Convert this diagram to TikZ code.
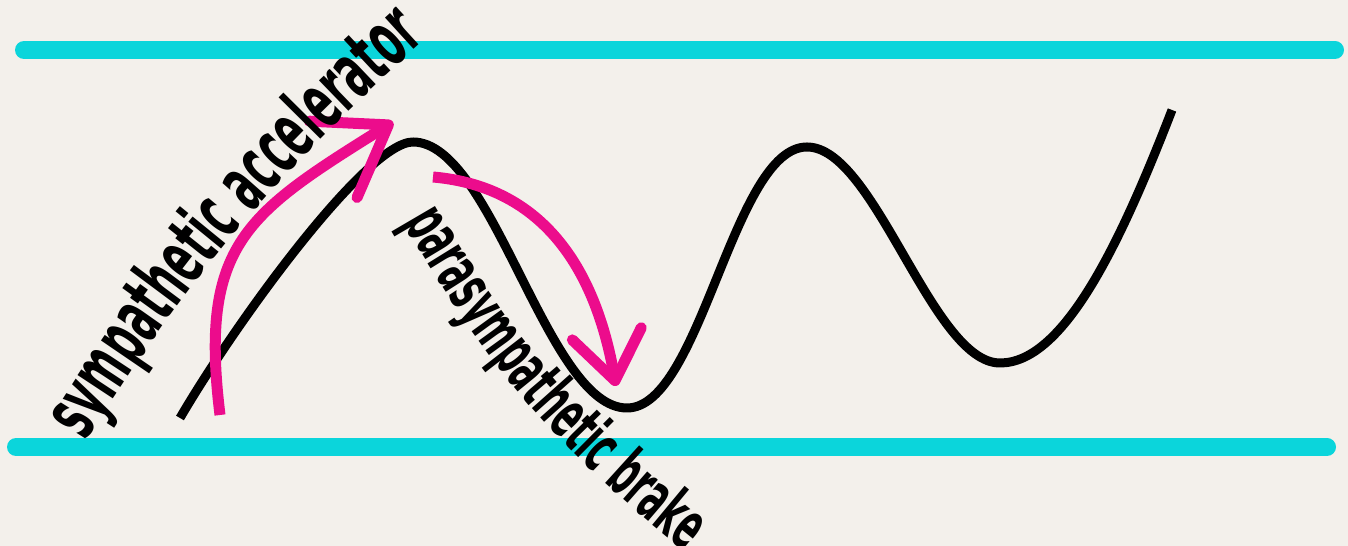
\documentclass[tikz,border=0pt]{standalone}
\usepackage{fontspec}
\usetikzlibrary{arrows.meta,decorations.text}
\newfontfamily\labelfont{DejaVu Sans}[FakeStretch=0.5]
\definecolor{bgc}{HTML}{F3F0EB}
\definecolor{tealc}{HTML}{0BD5DB}
\definecolor{pinkc}{HTML}{EC0C8C}
\begin{document}
\begin{tikzpicture}[x=0.02cm,y=0.02cm,line join=round,line cap=round]
	\tikzset{band/.style={tealc,line width=0.36cm},
		wave/.style={black,line width=0.18cm,line cap=butt},
		push/.style={pinkc,line width=0.22cm,line cap=butt},
		curvedlbl/.style 2 args={decorate,decoration={text along path,text align=left,
			text={|\labelfont\bfseries\fontsize{#1}{#1}\selectfont|#2}}}}
	\def\W{1348} \def\H{546}
	\fill[bgc] (0,0) rectangle (\W,\H);
	\useasboundingbox (0,0) rectangle (\W,\H);
	% the two limits
	\draw[band] (24,496)--(1335,496);
	\draw[band] (16,99)--(1327,99);
	% the wave
	\draw[wave] (180,128) .. controls (236,224) and (367,404) .. (413,404)
		.. controls (493,404) and (547,138) .. (627,138)
		.. controls (701,138) and (733,399) .. (807,399)
		.. controls (875,399) and (932,183) .. (1000,183)
		.. controls (1063,183) and (1119,299) .. (1172,436);
	% up and down
	\coordinate (upfrom) at (220,131);
	\coordinate (upto) at (393,424);
	\coordinate (downfrom) at (433,369);
	\coordinate (downto) at (616,160);
	\draw[push,-{Straight Barb[round,length=1.3cm,width=1.8cm]}] (upfrom) to[out=97,in=212,looseness=1.3] (upto);
	\draw[push,-{Straight Barb[round,length=0.95cm,width=1.4cm]}] (downfrom) to[out=-5,in=100,looseness=1.05] (downto);
	% labels on curved baselines
	\path[curvedlbl={44pt}{sympathetic accelerator}] (86,104) to[out=58,in=222] (440,520);
	\path[curvedlbl={38pt}{parasympathetic brake}] (403,324) to[out=-60,in=142] (710,-25);
\end{tikzpicture}
\end{document}
